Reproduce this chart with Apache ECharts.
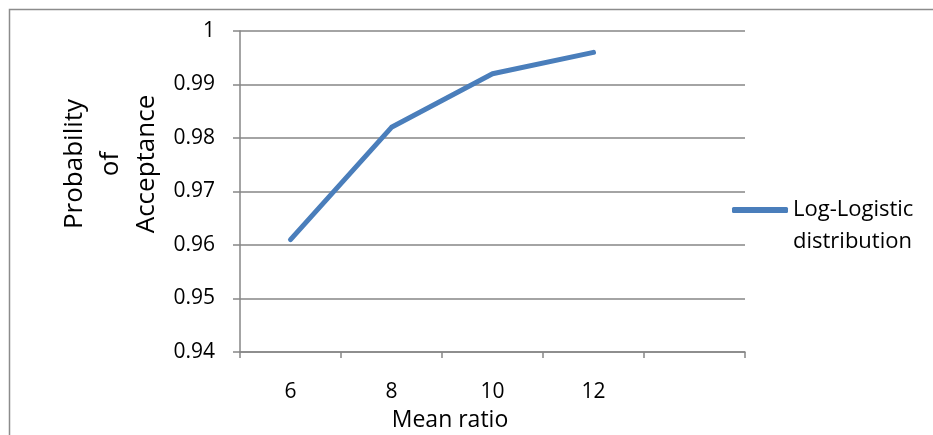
<!DOCTYPE html>
<html><head><meta charset="utf-8">
<script src="https://cdn.jsdelivr.net/npm/echarts@6/dist/echarts.min.js"></script>
<style>html,body{margin:0;padding:0;background:#fff}#c{width:933px;height:435px}</style>
</head><body><div id="c"></div>
<script>
const categories = ['6', '8', '10', '12', ''];
const probAcceptance = [0.961, 0.982, 0.992, 0.996];
const seriesName = 'Log-Logistic distribution';
const yTicks = { min: 0.94, max: 1, interval: 0.01 };

const FONT = '"Open Sans", sans-serif';
const chart = echarts.init(document.getElementById('c'), null, { renderer: 'canvas' });
chart.setOption({
  animation: false,
  backgroundColor: '#fff',
  grid: { left: 240, right: 188, top: 31, bottom: 83 },
  xAxis: {
    type: 'category',
    data: categories,
    boundaryGap: true,
    axisLine: { lineStyle: { color: '#868686', width: 1.5 } },
    axisTick: { show: true, length: 6, alignWithLabel: false, lineStyle: { color: '#868686', width: 1.5 } },
    axisLabel: { color: '#000', fontFamily: FONT, fontSize: 21, margin: 30 },
    splitLine: { show: false }
  },
  yAxis: {
    type: 'value',
    min: yTicks.min, max: yTicks.max, interval: yTicks.interval,
    axisLine: { show: true, lineStyle: { color: '#868686', width: 1.5 } },
    axisTick: { show: true, length: 7, inside: false, lineStyle: { color: '#868686', width: 1.5 } },
    axisLabel: { color: '#000', fontFamily: FONT, fontSize: 21, margin: 25,
      formatter: v => String(Math.round(v * 100) / 100) },
    splitLine: { show: true, lineStyle: { color: '#868686', width: 1.5 } }
  },
  legend: {
    show: true,
    left: 732, top: 162,
    padding: 0,
    orient: 'vertical',
    itemWidth: 56, itemHeight: 6, itemGap: 4,
    icon: 'roundRect',
    formatter: () => ' \nLog-Logistic\ndistribution',
    textStyle: { color: '#000', fontFamily: FONT, fontSize: 22, lineHeight: 32 },
    data: [{ name: seriesName, itemStyle: { color: '#4a7ebb' } }]
  },
  series: [{
    name: seriesName,
    type: 'line',
    data: probAcceptance,
    symbol: 'none',
    lineStyle: { color: '#4a7ebb', width: 5, cap: 'round', join: 'round' },
    itemStyle: { color: '#4a7ebb' }
  }],
  graphic: [
    { type: 'rect', shape: { x: 9.5, y: 9.5, width: 950, height: 450 },
      style: { fill: 'none', stroke: '#8c8c8c', lineWidth: 1.5 }, silent: true },
    { type: 'text', x: 450, y: 420,
      style: { text: 'Mean ratio', fontFamily: FONT, fontSize: 23, fill: '#000', align: 'center', verticalAlign: 'middle' } },
    { type: 'text', x: 111, y: 164, rotation: Math.PI / 2,
      style: { text: 'Probability\nof\nAcceptance', fontFamily: FONT, fontSize: 26, lineHeight: 36, fill: '#000', align: 'center', verticalAlign: 'middle' } }
  ]
});
</script></body></html>
